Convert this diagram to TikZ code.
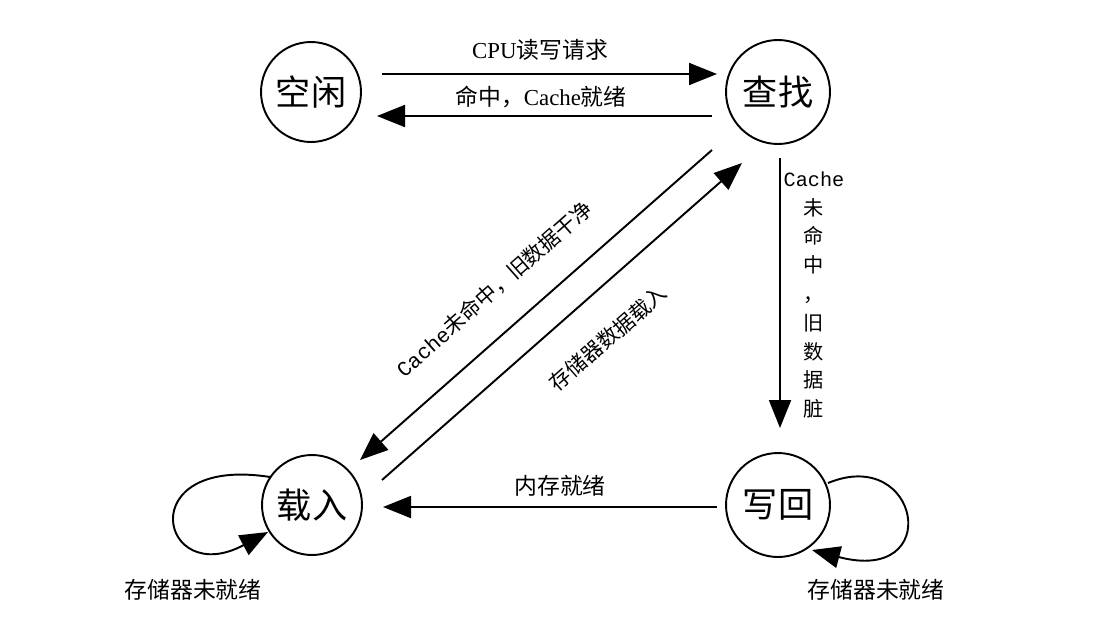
\documentclass[tikz,border=0pt]{standalone}
\usepackage{fontspec}
\setmainfont{Liberation Serif}
\setmonofont{Liberation Mono}
\newfontfamily\cjk{Noto Sans CJK SC}
\usetikzlibrary{arrows.meta,calc}

\begin{document}
\begin{tikzpicture}[x=0.02cm,y=-0.02cm,
  state/.style={circle,draw,line width=1.1pt,minimum size=2cm,inner sep=0pt,
    font=\cjk\fontsize{20}{24}\selectfont},
  bigstate/.style={state,minimum size=2.08cm},
  tr/.style={line width=1.1pt,-{Triangle[length=0.56cm,width=0.44cm]}},
  lbl/.style={inner sep=1pt,font=\fontsize{13}{16}\selectfont},
  slant/.style={inner sep=1pt,rotate=41.4,font=\fontsize{12}{15}\selectfont}]

  % page frame
  \useasboundingbox (0,0) rectangle (1115,629);

  % states
  \node[state]    (idle) at (311,92)  {空闲};
  \node[bigstate] (find) at (778,92)  {查找};
  \node[state]    (load) at (312,505) {载入};
  \node[bigstate] (wb)   at (778,505) {写回};

  % idle <-> lookup
  \draw[tr] ($(idle.center)+(71,-18)$) -- ($(find.center)+(-61,-18)$);
  \node[lbl] at (540,50) {CPU{\cjk 读写请求}};
  \draw[tr] ($(find.center)+(-66,24)$) -- ($(idle.center)+(66,24)$);
  \node[lbl] at (541,97) {{\cjk 命中，}Cache{\cjk 就绪}};

  % lookup <-> load
  \draw[tr] ($(find.center)+(-66,58)$) -- ($(load.center)+(48,-45)$);
  \node[slant] at (494,289) {\ttfamily Cache{\cjk 未命中，旧数据干净}};
  \draw[tr] ($(load.center)+(70,-25)$) -- ($(find.center)+(-36,71)$);
  \node[slant] at (608,338) {{\cjk 存储器数据载入}};

  % lookup -> write back
  \draw[tr] ($(find.center)+(2,66)$) -- ($(wb.center)+(2,-77)$);
  \node[inner sep=1pt,align=center,font=\fontsize{11.5}{16.4}\selectfont] at (814,295)
    {\ttfamily Cache\\{\cjk 未}\\{\cjk 命}\\{\cjk 中}\\{\cjk ，}\\{\cjk 旧}\\{\cjk 数}\\{\cjk 据}\\{\cjk 脏}};

  % write back -> load
  \draw[tr] ($(wb.center)+(-61,2)$) -- ($(load.center)+(71,2)$);
  \node[lbl] at (560,486) {{\cjk 内存就绪}};

  % self loops
  \draw[tr] ($(load.center)+(-42,-28)$)
    .. controls ($(load.center)+(-182,-50)$) and ($(load.center)+(-152,85)$)
    .. ($(load.center)+(-44,27)$);
  \node[lbl] at (193,590) {{\cjk 存储器未就绪}};

  \draw[tr] ($(wb.center)+(50,-22)$)
    .. controls ($(wb.center)+(142,-60)$) and ($(wb.center)+(167,80)$)
    .. ($(wb.center)+(34,45)$);
  \node[lbl] at (876,590) {{\cjk 存储器未就绪}};
\end{tikzpicture}
\end{document}
